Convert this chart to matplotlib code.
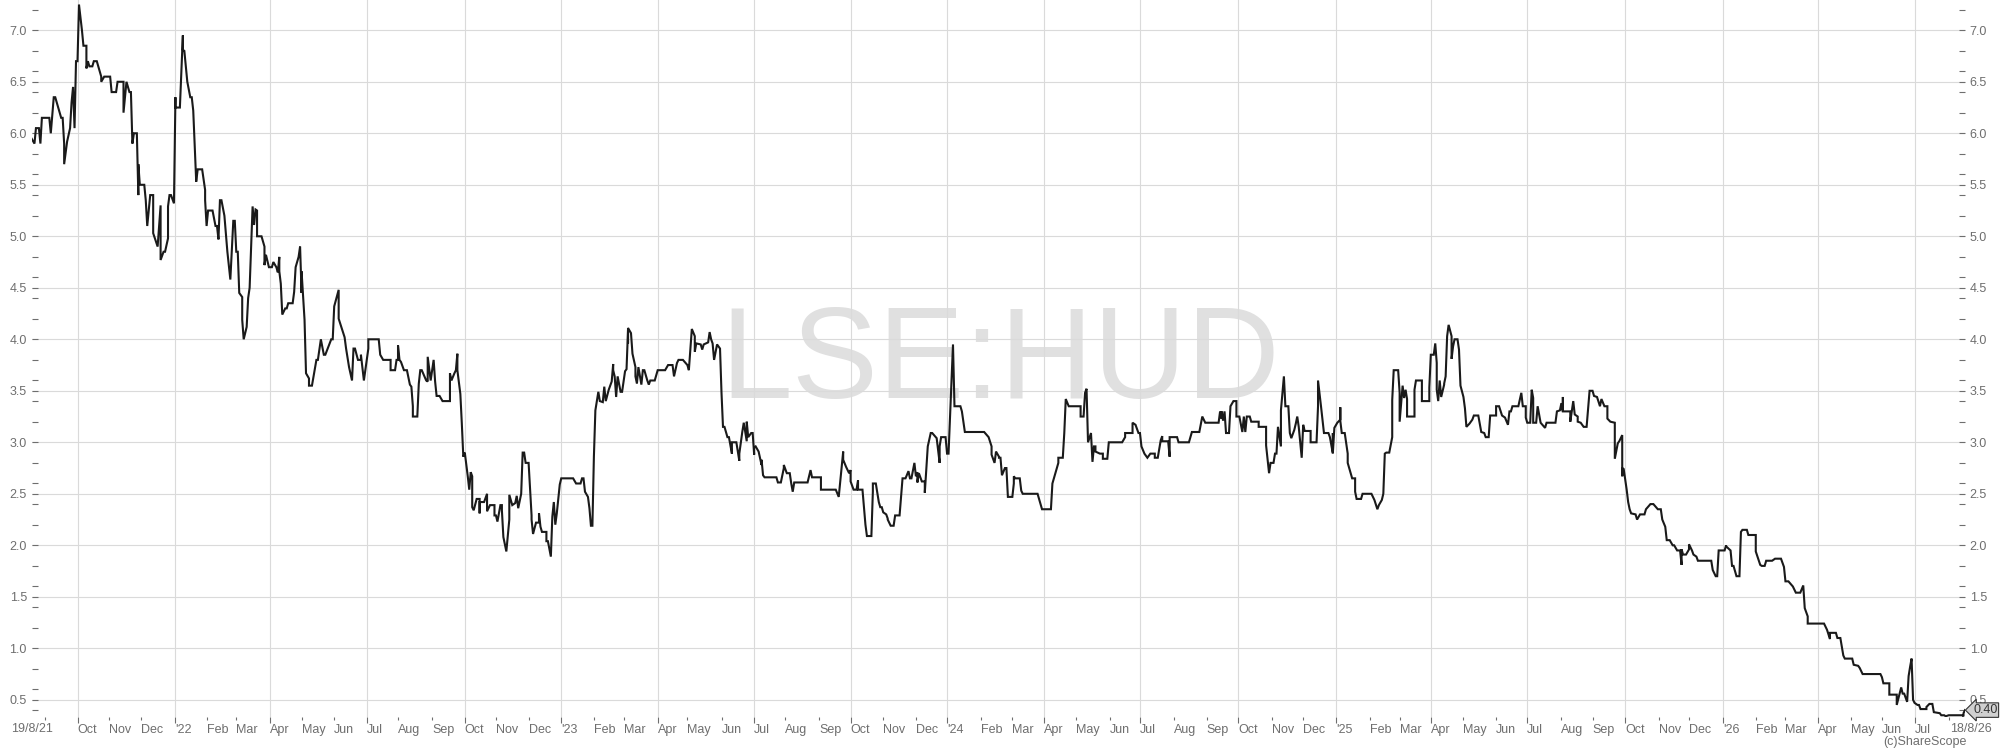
import numpy as np
import matplotlib
matplotlib.use("Agg")
import matplotlib.pyplot as plt
from matplotlib.ticker import MultipleLocator

plt.rcParams['font.family'] = ['Liberation Sans', 'DejaVu Sans']

# --- data: (date, close) ---
START = "2021-08-19"
END = "2026-08-18"
TICKER = "LSE:HUD"

hud_2021 = [
    ("2021-08-19", 5.95), ("2021-08-21", 5.90), ("2021-08-23", 5.90), ("2021-08-24", 6.05),
    ("2021-08-26", 6.05), ("2021-08-27", 5.90), ("2021-08-28", 6.15), ("2021-09-04", 6.15),
    ("2021-09-07", 6.00), ("2021-09-09", 6.35), ("2021-09-10", 6.35), ("2021-09-12", 6.30),
    ("2021-09-16", 6.15), ("2021-09-17", 6.15), ("2021-09-19", 5.90), ("2021-09-20", 5.70),
    ("2021-09-22", 5.92), ("2021-09-24", 6.05), ("2021-09-25", 6.30), ("2021-09-28", 6.45),
    ("2021-09-29", 6.05), ("2021-09-30", 6.70), ("2021-10-01", 6.70), ("2021-10-04", 7.25),
    ("2021-10-06", 7.00), ("2021-10-07", 6.85), ("2021-10-09", 6.85), ("2021-10-10", 6.63),
    ("2021-10-12", 6.70), ("2021-10-13", 6.65), ("2021-10-15", 6.65), ("2021-10-16", 6.70),
    ("2021-10-20", 6.70), ("2021-10-22", 6.60), ("2021-10-24", 6.55), ("2021-10-25", 6.50),
    ("2021-10-27", 6.55), ("2021-11-02", 6.55), ("2021-11-03", 6.40), ("2021-11-08", 6.40),
    ("2021-11-09", 6.50), ("2021-11-13", 6.50), ("2021-11-15", 6.20), ("2021-11-17", 6.50),
    ("2021-11-19", 6.40), ("2021-11-20", 6.40), ("2021-11-23", 5.90), ("2021-11-24", 6.00),
    ("2021-11-26", 6.00), ("2021-11-27", 5.40), ("2021-11-29", 5.70), ("2021-11-30", 5.50),
    ("2021-12-03", 5.50), ("2021-12-04", 5.35), ("2021-12-06", 5.35), ("2021-12-07", 5.10),
    ("2021-12-09", 5.40), ("2021-12-12", 5.40), ("2021-12-13", 5.03), ("2021-12-16", 4.90),
    ("2021-12-18", 5.30), ("2021-12-19", 5.14), ("2021-12-20", 4.77), ("2021-12-22", 4.85),
    ("2021-12-23", 4.85), ("2021-12-25", 4.98), ("2021-12-26", 5.29), ("2021-12-28", 5.40),
    ("2021-12-29", 5.40), ("2021-12-31", 5.32),
]

hud_2022 = [
    ("2022-01-02", 6.35), ("2022-01-03", 6.25), ("2022-01-06", 6.25), ("2022-01-08", 6.95),
    ("2022-01-09", 6.81), ("2022-01-11", 6.80), ("2022-01-13", 6.50), ("2022-01-15", 6.35),
    ("2022-01-18", 6.35), ("2022-01-19", 6.22), ("2022-01-21", 5.53), ("2022-01-22", 5.65),
    ("2022-01-27", 5.65), ("2022-01-29", 5.45), ("2022-01-31", 5.35), ("2022-02-01", 5.10),
    ("2022-02-02", 5.25), ("2022-02-07", 5.25), ("2022-02-09", 5.10), ("2022-02-10", 5.10),
    ("2022-02-11", 4.97), ("2022-02-12", 5.35), ("2022-02-15", 5.35), ("2022-02-17", 5.20),
    ("2022-02-20", 4.85), ("2022-02-21", 4.85), ("2022-02-23", 4.58), ("2022-02-25", 5.15),
    ("2022-02-28", 5.15), ("2022-03-01", 4.85), ("2022-03-02", 4.85), ("2022-03-03", 4.45),
    ("2022-03-05", 4.41), ("2022-03-07", 4.19), ("2022-03-08", 4.00), ("2022-03-10", 4.12),
    ("2022-03-11", 4.40), ("2022-03-13", 4.50), ("2022-03-16", 5.29), ("2022-03-17", 5.11),
    ("2022-03-18", 5.26), ("2022-03-19", 5.25), ("2022-03-21", 5.00), ("2022-03-24", 5.00),
    ("2022-03-26", 4.90), ("2022-03-28", 4.72), ("2022-03-29", 4.82), ("2022-03-31", 4.70),
    ("2022-04-03", 4.70), ("2022-04-05", 4.75), ("2022-04-07", 4.70), ("2022-04-08", 4.65),
    ("2022-04-10", 4.80), ("2022-04-11", 4.66), ("2022-04-12", 4.54), ("2022-04-13", 4.24),
    ("2022-04-15", 4.30), ("2022-04-17", 4.30), ("2022-04-19", 4.35), ("2022-04-22", 4.35),
    ("2022-04-24", 4.46), ("2022-04-26", 4.70), ("2022-04-28", 4.80), ("2022-04-29", 4.90),
    ("2022-05-01", 4.45), ("2022-05-02", 4.66), ("2022-05-04", 4.19), ("2022-05-05", 3.67),
    ("2022-05-07", 3.62), ("2022-05-09", 3.55), ("2022-05-11", 3.55), ("2022-05-14", 3.80),
    ("2022-05-17", 3.80), ("2022-05-19", 4.00), ("2022-05-22", 3.85), ("2022-05-24", 3.85),
    ("2022-05-28", 4.00), ("2022-05-31", 4.00), ("2022-06-01", 4.32), ("2022-06-04", 4.48),
    ("2022-06-06", 4.20), ("2022-06-10", 4.02), ("2022-06-12", 3.91), ("2022-06-13", 3.91),
    ("2022-06-15", 3.73), ("2022-06-17", 3.60), ("2022-06-18", 3.91), ("2022-06-21", 3.91),
    ("2022-06-23", 3.80), ("2022-06-25", 3.80), ("2022-06-26", 3.85), ("2022-06-27", 3.85),
    ("2022-06-29", 3.60), ("2022-07-02", 3.91), ("2022-07-03", 4.00), ("2022-07-13", 4.00),
    ("2022-07-14", 3.85), ("2022-07-16", 3.80), ("2022-07-23", 3.80), ("2022-07-24", 3.70),
    ("2022-07-28", 3.70), ("2022-07-29", 3.80), ("2022-07-30", 3.80), ("2022-08-01", 3.94),
    ("2022-08-02", 3.80), ("2022-08-03", 3.78), ("2022-08-05", 3.70), ("2022-08-09", 3.70),
    ("2022-08-11", 3.56), ("2022-08-12", 3.54), ("2022-08-13", 3.35), ("2022-08-15", 3.25),
    ("2022-08-18", 3.25), ("2022-08-19", 3.57), ("2022-08-21", 3.70), ("2022-08-23", 3.70),
    ("2022-08-26", 3.60), ("2022-08-27", 3.59), ("2022-08-29", 3.83), ("2022-08-31", 3.60),
    ("2022-09-02", 3.80), ("2022-09-03", 3.60), ("2022-09-05", 3.59), ("2022-09-06", 3.45),
    ("2022-09-08", 3.45), ("2022-09-10", 3.40), ("2022-09-17", 3.40), ("2022-09-18", 3.67),
    ("2022-09-20", 3.60), ("2022-09-22", 3.67), ("2022-09-23", 3.70), ("2022-09-24", 3.86),
    ("2022-09-26", 3.70), ("2022-09-28", 3.47), ("2022-09-29", 3.18), ("2022-09-30", 2.86),
    ("2022-10-02", 2.90), ("2022-10-03", 2.90), ("2022-10-05", 2.67), ("2022-10-06", 2.54),
    ("2022-10-07", 2.71), ("2022-10-09", 2.67), ("2022-10-10", 2.37), ("2022-10-11", 2.34),
    ("2022-10-13", 2.45), ("2022-10-15", 2.45), ("2022-10-16", 2.31), ("2022-10-17", 2.42),
    ("2022-10-20", 2.42), ("2022-10-23", 2.50), ("2022-10-24", 2.33), ("2022-10-26", 2.39),
    ("2022-10-29", 2.39), ("2022-10-30", 2.29), ("2022-11-01", 2.29), ("2022-11-02", 2.23),
    ("2022-11-04", 2.39), ("2022-11-06", 2.39), ("2022-11-07", 2.34), ("2022-11-08", 2.08),
    ("2022-11-10", 1.94), ("2022-11-12", 2.25), ("2022-11-13", 2.47), ("2022-11-14", 2.49),
    ("2022-11-16", 2.39), ("2022-11-18", 2.41), ("2022-11-20", 2.48), ("2022-11-21", 2.48),
    ("2022-11-22", 2.36), ("2022-11-24", 2.50), ("2022-11-25", 2.90), ("2022-11-27", 2.90),
    ("2022-11-29", 2.80), ("2022-12-01", 2.80), ("2022-12-03", 2.29), ("2022-12-05", 2.25),
    ("2022-12-06", 2.11), ("2022-12-08", 2.22), ("2022-12-10", 2.22), ("2022-12-11", 2.31),
    ("2022-12-13", 2.18), ("2022-12-14", 2.13), ("2022-12-17", 2.13), ("2022-12-18", 2.04),
    ("2022-12-20", 2.04), ("2022-12-22", 1.89), ("2022-12-23", 2.28), ("2022-12-25", 2.42),
    ("2022-12-27", 2.20), ("2022-12-28", 2.31), ("2022-12-30", 2.59),
]

hud_2023 = [
    ("2023-01-01", 2.65), ("2023-01-12", 2.65), ("2023-01-14", 2.60), ("2023-01-19", 2.60),
    ("2023-01-20", 2.65), ("2023-01-23", 2.65), ("2023-01-24", 2.52), ("2023-01-26", 2.47),
    ("2023-01-27", 2.36), ("2023-01-29", 2.19), ("2023-01-31", 2.19), ("2023-02-01", 2.86),
    ("2023-02-02", 3.31), ("2023-02-04", 3.49), ("2023-02-06", 3.49), ("2023-02-07", 3.40),
    ("2023-02-09", 3.39), ("2023-02-10", 3.54), ("2023-02-12", 3.40), ("2023-02-13", 3.40),
    ("2023-02-15", 3.51), ("2023-02-17", 3.59), ("2023-02-18", 3.76), ("2023-02-20", 3.70),
    ("2023-02-21", 3.64), ("2023-02-22", 3.44), ("2023-02-23", 3.64), ("2023-02-25", 3.49),
    ("2023-02-28", 3.49), ("2023-03-02", 3.69), ("2023-03-03", 3.71), ("2023-03-04", 4.09),
    ("2023-03-05", 3.96), ("2023-03-06", 4.11), ("2023-03-08", 4.06), ("2023-03-09", 3.86),
    ("2023-03-11", 3.73), ("2023-03-12", 3.64), ("2023-03-14", 3.57), ("2023-03-15", 3.73),
    ("2023-03-17", 3.56), ("2023-03-18", 3.70), ("2023-03-21", 3.70), ("2023-03-23", 3.60),
    ("2023-03-24", 3.56), ("2023-03-26", 3.60), ("2023-03-30", 3.60), ("2023-04-01", 3.70),
    ("2023-04-10", 3.70), ("2023-04-12", 3.75), ("2023-04-16", 3.75), ("2023-04-18", 3.64),
    ("2023-04-20", 3.77), ("2023-04-21", 3.80), ("2023-04-26", 3.80), ("2023-04-29", 3.75),
    ("2023-05-02", 3.70), ("2023-05-04", 4.10), ("2023-05-06", 4.03), ("2023-05-08", 3.88),
    ("2023-05-09", 3.96), ("2023-05-12", 3.95), ("2023-05-14", 3.90), ("2023-05-16", 3.95),
    ("2023-05-19", 3.97), ("2023-05-21", 4.07), ("2023-05-23", 4.00), ("2023-05-24", 3.96),
    ("2023-05-25", 3.80), ("2023-05-27", 3.95), ("2023-05-29", 3.95), ("2023-05-31", 3.91),
    ("2023-06-01", 3.48), ("2023-06-02", 3.15), ("2023-06-05", 3.15), ("2023-06-07", 3.05),
    ("2023-06-08", 3.05), ("2023-06-10", 2.89), ("2023-06-12", 3.00), ("2023-06-15", 3.00),
    ("2023-06-17", 2.82), ("2023-06-19", 2.89), ("2023-06-21", 3.10), ("2023-06-22", 3.19),
    ("2023-06-24", 3.01), ("2023-06-25", 3.20), ("2023-06-27", 3.05), ("2023-06-29", 3.09),
    ("2023-06-30", 3.09), ("2023-07-01", 2.88), ("2023-07-02", 2.95), ("2023-07-04", 2.96),
    ("2023-07-06", 2.91), ("2023-07-08", 2.78), ("2023-07-09", 2.83), ("2023-07-11", 2.68),
    ("2023-07-12", 2.66), ("2023-07-23", 2.66), ("2023-07-25", 2.61), ("2023-07-27", 2.61),
    ("2023-07-29", 2.75), ("2023-07-30", 2.78), ("2023-08-02", 2.70), ("2023-08-04", 2.70),
    ("2023-08-06", 2.60), ("2023-08-08", 2.52), ("2023-08-09", 2.61), ("2023-08-22", 2.61),
    ("2023-08-24", 2.73), ("2023-08-25", 2.66), ("2023-09-02", 2.66), ("2023-09-04", 2.54),
    ("2023-09-18", 2.54), ("2023-09-20", 2.47), ("2023-09-23", 2.91), ("2023-09-25", 2.83),
    ("2023-09-27", 2.76), ("2023-09-29", 2.70), ("2023-10-01", 2.73), ("2023-10-02", 2.62),
    ("2023-10-04", 2.54), ("2023-10-06", 2.54), ("2023-10-08", 2.63), ("2023-10-09", 2.54),
    ("2023-10-12", 2.54), ("2023-10-14", 2.21), ("2023-10-16", 2.20), ("2023-10-17", 2.09),
    ("2023-10-20", 2.09), ("2023-10-21", 2.52), ("2023-10-23", 2.60), ("2023-10-25", 2.60),
    ("2023-10-27", 2.42), ("2023-10-29", 2.37), ("2023-10-31", 2.37), ("2023-11-01", 2.32),
    ("2023-11-03", 2.30), ("2023-11-05", 2.26), ("2023-11-06", 2.25), ("2023-11-08", 2.19),
    ("2023-11-10", 2.19), ("2023-11-11", 2.29), ("2023-11-16", 2.29), ("2023-11-18", 2.65),
    ("2023-11-22", 2.65), ("2023-11-24", 2.72), ("2023-11-26", 2.65), ("2023-11-28", 2.65),
    ("2023-11-30", 2.80), ("2023-12-01", 2.67), ("2023-12-02", 2.71), ("2023-12-04", 2.61),
    ("2023-12-05", 2.70), ("2023-12-07", 2.62), ("2023-12-09", 2.62), ("2023-12-11", 2.51),
    ("2023-12-13", 2.96), ("2023-12-15", 3.09), ("2023-12-18", 3.09), ("2023-12-21", 3.04),
    ("2023-12-23", 2.80), ("2023-12-25", 2.96), ("2023-12-26", 3.05), ("2023-12-29", 3.05),
    ("2023-12-30", 2.89),
]

hud_2024 = [
    ("2024-01-02", 2.89), ("2024-01-05", 3.95), ("2024-01-08", 3.35), ("2024-01-12", 3.35),
    ("2024-01-14", 3.30), ("2024-01-15", 3.30), ("2024-01-17", 3.10), ("2024-02-05", 3.10),
    ("2024-02-08", 3.05), ("2024-02-10", 2.96), ("2024-02-12", 2.88), ("2024-02-14", 2.80),
    ("2024-02-15", 2.91), ("2024-02-17", 2.86), ("2024-02-19", 2.85), ("2024-02-20", 2.85),
    ("2024-02-21", 2.68), ("2024-02-23", 2.75), ("2024-02-26", 2.75), ("2024-02-27", 2.47),
    ("2024-03-01", 2.47), ("2024-03-02", 2.60), ("2024-03-03", 2.62), ("2024-03-04", 2.67),
    ("2024-03-05", 2.65), ("2024-03-08", 2.65), ("2024-03-10", 2.53), ("2024-03-12", 2.50),
    ("2024-03-26", 2.50), ("2024-03-29", 2.35), ("2024-04-07", 2.35), ("2024-04-09", 2.60),
    ("2024-04-11", 2.70), ("2024-04-13", 2.80), ("2024-04-14", 2.85), ("2024-04-18", 2.85),
    ("2024-04-19", 3.09), ("2024-04-22", 3.42), ("2024-04-24", 3.35), ("2024-05-04", 3.35),
    ("2024-05-05", 3.25), ("2024-05-08", 3.25), ("2024-05-09", 3.48), ("2024-05-10", 3.52),
    ("2024-05-11", 3.00), ("2024-05-13", 3.00), ("2024-05-15", 3.09), ("2024-05-16", 2.81),
    ("2024-05-17", 2.96), ("2024-05-19", 2.96), ("2024-05-20", 2.91), ("2024-05-23", 2.89),
    ("2024-05-25", 2.89), ("2024-05-27", 2.84), ("2024-05-30", 2.84), ("2024-05-31", 3.00),
    ("2024-06-13", 3.00), ("2024-06-15", 3.05), ("2024-06-17", 3.09), ("2024-06-22", 3.09),
    ("2024-06-24", 3.19), ("2024-06-26", 3.17), ("2024-06-28", 3.09), ("2024-06-30", 3.09),
    ("2024-07-02", 2.96), ("2024-07-04", 2.89), ("2024-07-07", 2.85), ("2024-07-10", 2.89),
    ("2024-07-13", 2.89), ("2024-07-15", 2.85), ("2024-07-17", 2.85), ("2024-07-19", 3.02),
    ("2024-07-21", 3.06), ("2024-07-22", 3.01), ("2024-07-26", 3.01), ("2024-07-28", 2.86),
    ("2024-07-29", 3.05), ("2024-08-03", 3.05), ("2024-08-06", 3.00), ("2024-08-15", 3.00),
    ("2024-08-17", 3.10), ("2024-08-25", 3.10), ("2024-08-28", 3.25), ("2024-08-30", 3.19),
    ("2024-09-12", 3.19), ("2024-09-13", 3.30), ("2024-09-14", 3.23), ("2024-09-16", 3.30),
    ("2024-09-17", 3.21), ("2024-09-18", 3.30), ("2024-09-19", 3.09), ("2024-09-22", 3.09),
    ("2024-09-24", 3.35), ("2024-09-26", 3.40), ("2024-09-28", 3.40), ("2024-09-30", 3.25),
    ("2024-10-02", 3.25), ("2024-10-04", 3.10), ("2024-10-05", 3.25), ("2024-10-06", 3.25),
    ("2024-10-08", 3.10), ("2024-10-09", 3.25), ("2024-10-11", 3.25), ("2024-10-14", 3.20),
    ("2024-10-19", 3.20), ("2024-10-20", 3.15), ("2024-10-27", 3.15), ("2024-10-28", 2.97),
    ("2024-10-30", 2.70), ("2024-10-31", 2.80), ("2024-11-03", 2.80), ("2024-11-05", 2.89),
    ("2024-11-06", 2.89), ("2024-11-07", 3.15), ("2024-11-09", 2.96), ("2024-11-10", 3.31),
    ("2024-11-13", 3.64), ("2024-11-14", 3.35), ("2024-11-17", 3.35), ("2024-11-19", 3.09),
    ("2024-11-20", 3.04), ("2024-11-22", 3.12), ("2024-11-24", 3.18), ("2024-11-26", 3.25),
    ("2024-11-27", 3.15), ("2024-11-29", 2.85), ("2024-12-02", 3.17), ("2024-12-03", 3.11),
    ("2024-12-07", 3.11), ("2024-12-09", 3.00), ("2024-12-13", 3.00), ("2024-12-15", 3.35),
    ("2024-12-16", 3.60), ("2024-12-18", 3.35), ("2024-12-20", 3.09), ("2024-12-25", 3.09),
    ("2024-12-26", 3.05), ("2024-12-28", 2.89), ("2024-12-29", 3.09), ("2024-12-30", 2.90),
    ("2024-12-31", 3.14),
]

hud_2025 = [
    ("2025-01-02", 3.19), ("2025-01-04", 3.22), ("2025-01-05", 3.34), ("2025-01-06", 3.21),
    ("2025-01-07", 3.09), ("2025-01-09", 3.09), ("2025-01-11", 2.89), ("2025-01-13", 2.80),
    ("2025-01-15", 2.70), ("2025-01-16", 2.65), ("2025-01-18", 2.65), ("2025-01-19", 2.52),
    ("2025-01-21", 2.45), ("2025-01-24", 2.45), ("2025-01-26", 2.50), ("2025-02-04", 2.50),
    ("2025-02-06", 2.44), ("2025-02-09", 2.35), ("2025-02-11", 2.39), ("2025-02-13", 2.44),
    ("2025-02-14", 2.50), ("2025-02-16", 2.89), ("2025-02-18", 2.90), ("2025-02-20", 2.90),
    ("2025-02-22", 3.05), ("2025-02-23", 3.41), ("2025-02-25", 3.70), ("2025-02-28", 3.70),
    ("2025-03-02", 3.48), ("2025-03-03", 3.20), ("2025-03-05", 3.55), ("2025-03-06", 3.43),
    ("2025-03-07", 3.51), ("2025-03-08", 3.42), ("2025-03-09", 3.25), ("2025-03-15", 3.25),
    ("2025-03-17", 3.51), ("2025-03-18", 3.60), ("2025-03-22", 3.60), ("2025-03-23", 3.40),
    ("2025-03-29", 3.40), ("2025-03-30", 3.53), ("2025-04-01", 3.85), ("2025-04-03", 3.85),
    ("2025-04-04", 3.96), ("2025-04-05", 3.77), ("2025-04-07", 3.51), ("2025-04-08", 3.40),
    ("2025-04-09", 3.60), ("2025-04-10", 3.44), ("2025-04-12", 3.56), ("2025-04-13", 3.57),
    ("2025-04-15", 3.64), ("2025-04-16", 4.03), ("2025-04-17", 4.14), ("2025-04-19", 4.03),
    ("2025-04-21", 3.81), ("2025-04-22", 3.93), ("2025-04-23", 4.00), ("2025-04-25", 4.00),
    ("2025-04-27", 3.90), ("2025-04-28", 3.90), ("2025-04-29", 3.55), ("2025-05-01", 3.44),
    ("2025-05-02", 3.33), ("2025-05-05", 3.15), ("2025-05-07", 3.18), ("2025-05-09", 3.22),
    ("2025-05-11", 3.26), ("2025-05-15", 3.26), ("2025-05-17", 3.10), ("2025-05-21", 3.09),
    ("2025-05-22", 3.05), ("2025-05-26", 3.05), ("2025-05-27", 3.26), ("2025-06-01", 3.26),
    ("2025-06-02", 3.35), ("2025-06-04", 3.35), ("2025-06-06", 3.26), ("2025-06-09", 3.25),
    ("2025-06-10", 3.24), ("2025-06-12", 3.17), ("2025-06-13", 3.30), ("2025-06-15", 3.30),
    ("2025-06-17", 3.35), ("2025-06-22", 3.35), ("2025-06-25", 3.48), ("2025-06-26", 3.35),
    ("2025-06-28", 3.35), ("2025-06-30", 3.24), ("2025-07-01", 3.19), ("2025-07-03", 3.19),
    ("2025-07-04", 3.51), ("2025-07-06", 3.43), ("2025-07-07", 3.19), ("2025-07-09", 3.19),
    ("2025-07-10", 3.35), ("2025-07-12", 3.19), ("2025-07-14", 3.19), ("2025-07-17", 3.14),
    ("2025-07-18", 3.19), ("2025-07-27", 3.19), ("2025-07-29", 3.30), ("2025-07-31", 3.31),
    ("2025-08-01", 3.38), ("2025-08-02", 3.30), ("2025-08-03", 3.44), ("2025-08-04", 3.30),
    ("2025-08-09", 3.30), ("2025-08-11", 3.20), ("2025-08-12", 3.30), ("2025-08-13", 3.40),
    ("2025-08-14", 3.27), ("2025-08-17", 3.25), ("2025-08-18", 3.20), ("2025-08-20", 3.19),
    ("2025-08-22", 3.15), ("2025-08-26", 3.15), ("2025-08-28", 3.50), ("2025-08-31", 3.50),
    ("2025-09-02", 3.45), ("2025-09-04", 3.44), ("2025-09-06", 3.35), ("2025-09-08", 3.35),
    ("2025-09-09", 3.42), ("2025-09-11", 3.35), ("2025-09-14", 3.35), ("2025-09-15", 3.23),
    ("2025-09-17", 3.20), ("2025-09-20", 3.19), ("2025-09-21", 3.14), ("2025-09-22", 2.84),
    ("2025-09-24", 2.99), ("2025-09-25", 3.01), ("2025-09-27", 3.07), ("2025-09-28", 2.67),
    ("2025-09-29", 2.75), ("2025-09-30", 2.74), ("2025-10-02", 2.54), ("2025-10-03", 2.42),
    ("2025-10-05", 2.35), ("2025-10-07", 2.31), ("2025-10-10", 2.30), ("2025-10-13", 2.25),
    ("2025-10-15", 2.30), ("2025-10-20", 2.30), ("2025-10-21", 2.35), ("2025-10-24", 2.40),
    ("2025-10-28", 2.40), ("2025-10-31", 2.35), ("2025-11-04", 2.35), ("2025-11-05", 2.25),
    ("2025-11-07", 2.18), ("2025-11-09", 2.05), ("2025-11-12", 2.05), ("2025-11-14", 2.00),
    ("2025-11-17", 2.00), ("2025-11-19", 1.95), ("2025-11-21", 1.95), ("2025-11-23", 1.81),
    ("2025-11-24", 1.96), ("2025-11-25", 1.91), ("2025-11-27", 1.91), ("2025-11-29", 1.96),
    ("2025-11-30", 2.01), ("2025-12-03", 1.95), ("2025-12-04", 1.91), ("2025-12-07", 1.89),
    ("2025-12-09", 1.85), ("2025-12-21", 1.85), ("2025-12-23", 1.76), ("2025-12-25", 1.70),
    ("2025-12-26", 1.70), ("2025-12-28", 1.95),
]

hud_2026 = [
    ("2026-01-02", 1.95), ("2026-01-04", 2.00), ("2026-01-05", 1.99), ("2026-01-08", 1.95),
    ("2026-01-09", 1.80), ("2026-01-12", 1.80), ("2026-01-14", 1.70), ("2026-01-16", 1.70),
    ("2026-01-18", 2.13), ("2026-01-20", 2.15), ("2026-01-23", 2.15), ("2026-01-26", 2.10),
    ("2026-01-31", 2.10), ("2026-02-02", 1.94), ("2026-02-05", 1.81), ("2026-02-06", 1.80),
    ("2026-02-10", 1.80), ("2026-02-11", 1.85), ("2026-02-17", 1.85), ("2026-02-19", 1.87),
    ("2026-02-25", 1.87), ("2026-02-27", 1.79), ("2026-02-28", 1.65), ("2026-03-04", 1.65),
    ("2026-03-07", 1.60), ("2026-03-09", 1.60), ("2026-03-11", 1.54), ("2026-03-16", 1.54),
    ("2026-03-18", 1.61), ("2026-03-19", 1.39), ("2026-03-21", 1.31), ("2026-03-23", 1.24),
    ("2026-04-07", 1.24), ("2026-04-09", 1.18), ("2026-04-11", 1.09), ("2026-04-12", 1.15),
    ("2026-04-17", 1.15), ("2026-04-19", 1.10), ("2026-04-22", 1.10), ("2026-04-24", 0.93),
    ("2026-04-25", 0.90), ("2026-05-03", 0.90), ("2026-05-05", 0.84), ("2026-05-08", 0.83),
    ("2026-05-11", 0.81), ("2026-05-13", 0.75), ("2026-05-29", 0.75), ("2026-05-31", 0.72),
    ("2026-06-02", 0.66), ("2026-06-06", 0.66), ("2026-06-07", 0.55), ("2026-06-13", 0.55),
    ("2026-06-15", 0.45), ("2026-06-18", 0.62), ("2026-06-19", 0.56), ("2026-06-22", 0.56),
    ("2026-06-24", 0.48), ("2026-06-25", 0.73), ("2026-06-26", 0.82), ("2026-06-29", 0.90),
    ("2026-06-30", 0.50), ("2026-07-01", 0.47), ("2026-07-03", 0.45), ("2026-07-05", 0.45),
    ("2026-07-07", 0.41), ("2026-07-11", 0.41), ("2026-07-13", 0.43), ("2026-07-15", 0.46),
    ("2026-07-17", 0.46), ("2026-07-20", 0.38), ("2026-07-24", 0.37), ("2026-07-26", 0.35),
    ("2026-07-29", 0.35), ("2026-07-30", 0.34), ("2026-08-01", 0.35), ("2026-08-14", 0.35),
    ("2026-08-15", 0.34), ("2026-08-17", 0.37), ("2026-08-18", 0.40),
]

MONTHS = ["Jan", "Feb", "Mar", "Apr", "May", "Jun",
          "Jul", "Aug", "Sep", "Oct", "Nov", "Dec"]

# --- build series, x = trading-day position since start ---
series = hud_2021 + hud_2022 + hud_2023 + hud_2024 + hud_2025 + hud_2026
dates = np.array([d for d, _ in series], dtype="datetime64[D]")
close = np.array([p for _, p in series])
t0 = np.datetime64(START, "D")
t1 = np.datetime64(END, "D")
x = np.busday_count(t0, dates)
x_end = np.busday_count(t0, t1)

GREY = "#6e6e6e"
GRID = "#dadada"

fig = plt.figure(figsize=(20, 7.51), dpi=100)
W, H = 2000, 751
ax = fig.add_axes([31.5 / W, (H - 717) / H, (1965 - 31.5) / W, 717 / H])

ax.plot(x, close, color="#1a1a1a", lw=1.5, zorder=3, solid_joinstyle="miter")

ax.set_xlim(0, x_end)
ax.set_ylim(0.333, 7.294)

# watermark
ax.text((1000 - 31.5) / 1933.5, (717 - 398) / 717, TICKER, transform=ax.transAxes,
        ha="center", va="baseline", fontsize=93, color="#e0e0e0", zorder=0.2)

# y axis, both sides
ax.set_yticks(np.arange(0.5, 7.01, 0.5))
ax.set_yticklabels([f"{v:.1f}" for v in np.arange(0.5, 7.01, 0.5)])
ax.yaxis.set_minor_locator(MultipleLocator(0.2))
ax.tick_params(axis="y", which="both", direction="in", length=4, width=0.8,
               color=GREY, left=True, right=True, labelleft=True, labelright=True,
               labelsize=9, labelcolor=GREY, pad=3.3)

# x axis: month ticks, quarters get gridlines
months = np.arange(np.datetime64("2021-09"), np.datetime64("2026-09"), dtype="datetime64[M]")
mnum = months.astype(int) % 12
myear = months.astype(int) // 12 + 1970
mpos = np.busday_count(t0, months.astype("datetime64[D]"))
labels = []
for i, (m, y) in enumerate(zip(mnum, myear)):
    if i == 0 or i == len(months) - 1:
        labels.append("")
    elif m == 0:
        labels.append(f"'{y % 100:02d}")
    else:
        labels.append(MONTHS[m])
quarter = (mnum % 3) == 0
ax.set_xticks(mpos[quarter], [l for l, q in zip(labels, quarter) if q])
ax.set_xticks(mpos[~quarter], [l for l, q in zip(labels, quarter) if not q], minor=True)
ax.tick_params(axis="x", which="major", direction="out", length=4, width=0.8,
               color=GREY, labelsize=9, labelcolor=GREY, pad=1.2)
ax.tick_params(axis="x", which="minor", direction="out", length=2.5, width=0.8,
               color=GREY, labelsize=9, labelcolor=GREY, pad=2.7)
for lab in ax.get_xticklabels(which="both"):
    lab.set_ha("left")

ax.annotate("19/8/21", xy=(0, 0), xycoords=("data", "axes fraction"),
            xytext=(0, -6), textcoords="offset pixels", ha="center", va="top",
            fontsize=9, color=GREY, annotation_clip=False)
ax.annotate("18/8/26", xy=(x_end, 0), xycoords=("data", "axes fraction"),
            xytext=(6, -6), textcoords="offset pixels", ha="center", va="top",
            fontsize=9, color=GREY, annotation_clip=False)

ax.set_axisbelow(True)
ax.grid(which="major", color=GRID, lw=0.8)
for s in ax.spines.values():
    s.set_visible(False)

# last price tag (sits over the right-hand 0.5 label, as in the source)
ax.annotate(f"{close[-1]:.2f}", xy=(1, close[-1]), xycoords=("axes fraction", "data"),
            xytext=(8, 0), textcoords="offset pixels", ha="left", va="center",
            fontsize=9, color="#333333", annotation_clip=False, zorder=5,
            bbox=dict(boxstyle="larrow,pad=0.1", fc="#d0d0d0", ec="#333333", lw=0.8))

fig.text(1967 / W, (H - 742) / H, "(c)ShareScope", ha="right", va="center",
         fontsize=9, color=GREY)

fig.savefig("out.png", dpi=100)
